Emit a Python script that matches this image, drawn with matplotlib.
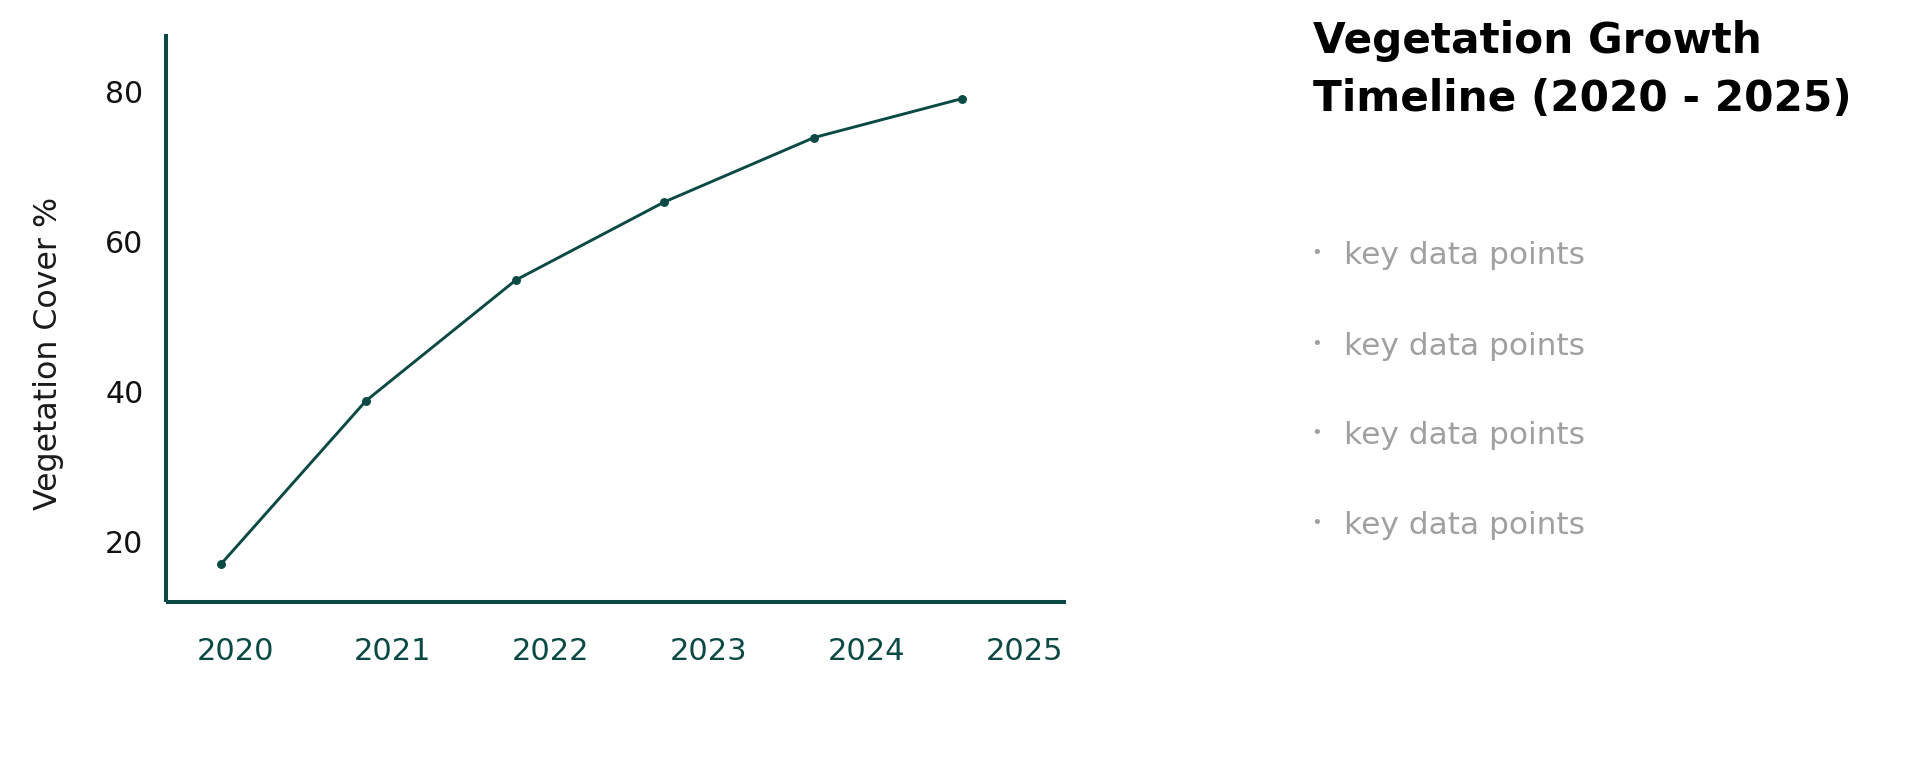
import matplotlib
matplotlib.use("Agg")
import matplotlib.pyplot as plt

# ---- data ----
years = [2019.91, 2020.83, 2021.78, 2022.72, 2023.67, 2024.61]
cover = [16.9, 38.7, 54.8, 65.2, 73.8, 79.0]
x_ticks = [2020, 2021, 2022, 2023, 2024, 2025]
x_tick_labels = ["2020", "2021", "2022", "2023", "2024", "2025"]
y_ticks = [20, 40, 60, 80]
y_tick_labels = ["20", "40", "60", "80"]
title_text = "Vegetation Growth\nTimeline (2020 - 2025)"
y_label = "Vegetation Cover %"
bullets = ["key data points", "key data points", "key data points", "key data points"]

W, H = 1908, 768
GREEN = "#0b4a44"
GREY = "#a0a0a0"

plt.rcParams['font.family'] = ['DejaVu Sans']
fig = plt.figure(figsize=(W / 100, H / 100), dpi=100)
fig.patch.set_facecolor("white")

left, right, bottom, top = 165.6, 1066, 602, 34
ax = fig.add_axes([left / W, 1 - bottom / H, (right - left) / W, (bottom - top) / H])

ax.plot(years, cover, color=GREEN, linewidth=2.1, marker="o", markersize=5.4,
        markerfacecolor=GREEN, markeredgecolor=GREEN, solid_capstyle="round")

ax.set_xlim(2019.56, 2025.266)
ax.set_ylim(11.87, 87.6)
ax.set_xticks(x_ticks)
ax.set_xticklabels(x_tick_labels)
ax.set_yticks(y_ticks)
ax.set_yticklabels(y_tick_labels)

for s in ["top", "right"]:
    ax.spines[s].set_visible(False)
for s in ["left", "bottom"]:
    ax.spines[s].set_color(GREEN)
    ax.spines[s].set_linewidth(2.9)
    ax.spines[s].set_capstyle("butt")

ax.tick_params(axis="x", length=0, pad=25, labelsize=22, labelcolor=GREEN)
ax.tick_params(axis="y", length=0, pad=16, labelsize=21.6, labelcolor="#111111")
ax.grid(False)

ax.set_ylabel(y_label, fontsize=22.8, color="#1a1a1a", va="center")
ax.yaxis.set_label_coords(-0.13, 0.437)

# title (multi-line text anchored at the baseline of its last line)
fig.text(1313 / W, 1 - 111 / H, title_text, fontsize=30.4, fontweight="bold",
         color="#000000", ha="left", va="baseline", linespacing=1.5)

# bullet list
baselines = [264, 355, 444, 534]
for b, txt in zip(baselines, bullets):
    fig.text(1317 / W, 1 - (b - 11) / H, "\u2022", fontsize=13, color=GREY,
             ha="center", va="center")
    fig.text(1344 / W, 1 - b / H, txt, fontsize=22.5, color=GREY,
             ha="left", va="baseline")

fig.savefig("out.png", dpi=100, facecolor="white")
